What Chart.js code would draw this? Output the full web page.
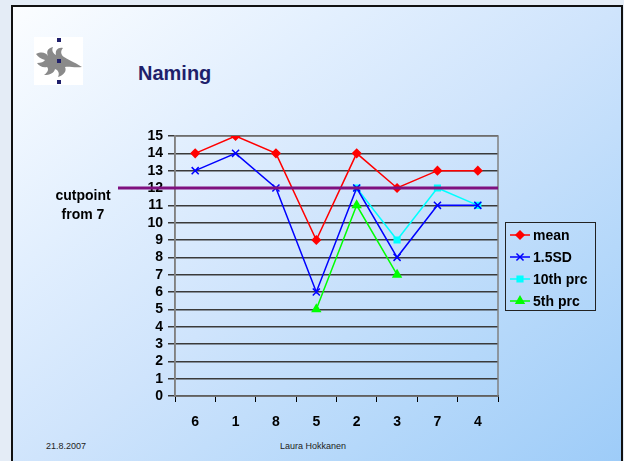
<!DOCTYPE html>
<html>
<head>
<meta charset="utf-8">
<script src="https://cdn.jsdelivr.net/npm/chart.js@4"></script>
<style>
    html, body { margin: 0; padding: 0; }
    body { width: 624px; height: 461px; overflow: hidden; position: relative; background: #e4ecf6; font-family: "Liberation Sans", Arial, sans-serif; }
    #slide {
        position: absolute; left: 11px; top: 5px; width: 608px; height: 470px;
        border: 2px solid #111;
        background: linear-gradient(to bottom right, #fbfdff 0%, #e2effe 28%, #cfe4fc 50%, #b5d8fa 75%, #9ccbf8 100%);
    }
    #logo { position: absolute; left: 34px; top: 37px; }
    #titulo { position: absolute; left: 138px; top: 62px; font-weight: bold; font-size: 20px; color: #1f1f6b; }
    .rodape { position: absolute; top: 441px; font-size: 9px; color: #222; }
    canvas { position: absolute; left: 0; top: 0; }
</style>
</head>
<body>
<div id="slide"></div>
<svg id="logo" width="50" height="49" viewBox="0 0 50 49">
    <rect x="0" y="0" width="49" height="48" fill="#ffffff"/>
    <path d="M2 17 C8 14 12 16 14 19 C12 14 14 11 19 10 C17 14 20 17 22 18 C21 13 24 10 29 11 C26 14 27 18 30 20 C33 22 40 25 48 30 C40 31 35 29 31 30 C33 34 30 38 24 40 C26 36 24 33 21 32 C20 36 16 38 10 38 C14 35 15 32 13 30 C9 31 5 29 3 26 C7 26 10 25 11 23 C7 22 4 20 2 17 Z" fill="#8a8a8a"/>
    <rect x="23" y="1" width="4" height="4" fill="#1f1f6b"/>
    <rect x="23" y="22" width="4" height="4" fill="#1f1f6b"/>
    <rect x="23" y="43" width="4" height="4" fill="#1f1f6b"/>
</svg>
<div id="titulo">Naming</div>
<div class="rodape" style="left:46px">21.8.2007</div>
<div class="rodape" style="left:280px">Laura Hokkanen</div>
<canvas id="graficoNaming" width="624" height="461"></canvas>

<script>
    // dados do grafico
    var categorias = ["6", "1", "8", "5", "2", "3", "7", "4"];
    var mean = [14, 15, 14, 9, 14, 12, 13, 13];
    var sd15 = [13, 14, 12, 6, 12, 8, 11, 11];
    var prc10 = [null, null, null, null, 12, 9, 12, 11];
    var prc5 = [null, null, null, 5, 11, 7, null, null];
    var ticksY = [0, 15];
    var cutpoint = 12;
    var textoCutpoint = ["cutpoint", "from 7"];

    var fonte = "'Liberation Sans', Arial, sans-serif";

    // linha roxa do cutpoint, borda da area e legenda
    var extras = {
        id: 'extras',
        beforeDatasetsDraw(chart) {
            var ctx = chart.ctx;
            var a = chart.chartArea;
            ctx.save();
            ctx.strokeStyle = '#808080';
            ctx.lineWidth = 1.5;
            ctx.strokeRect(a.left, a.top, a.right - a.left, a.bottom - a.top);
            ctx.restore();
        },
        afterDraw(chart) {
            var ctx = chart.ctx;
            var a = chart.chartArea;
            var y = chart.scales.y.getPixelForValue(cutpoint);
            ctx.save();
            ctx.strokeStyle = '#7f107f';
            ctx.lineWidth = 3;
            ctx.beginPath();
            ctx.moveTo(118, y);
            ctx.lineTo(a.right, y);
            ctx.stroke();

            ctx.fillStyle = '#000';
            ctx.font = 'bold 14px ' + fonte;
            ctx.textAlign = 'center';
            ctx.textBaseline = 'middle';
            ctx.fillText(textoCutpoint[0], 83, y + 8);
            ctx.fillText(textoCutpoint[1], 83, y + 27);

            // legenda
            ctx.strokeStyle = '#222';
            ctx.lineWidth = 1;
            ctx.strokeRect(505.5, 222.5, 90, 88);
            chart.data.datasets.forEach(function (ds, i) {
                var ly = 235 + i * 22;
                ctx.strokeStyle = ds.borderColor;
                ctx.lineWidth = 1.5;
                ctx.beginPath();
                ctx.moveTo(510, ly);
                ctx.lineTo(530, ly);
                ctx.stroke();
                Chart.helpers.drawPoint(ctx, {
                    pointStyle: ds.pointStyle,
                    radius: ds.pointRadius,
                    rotation: 0,
                    borderWidth: 1.5
                }, 520, ly);
                ctx.fillStyle = ds.borderColor;
                if (ds.pointStyle !== 'crossRot') ctx.fill();
                ctx.fillStyle = '#000';
                ctx.textAlign = 'left';
                ctx.fillText(ds.label, 533, ly + 1);
            });
            ctx.restore();
        }
    };

    var graficoNaming = new Chart(document.getElementById('graficoNaming').getContext('2d'), {
        type: 'line',
        data: {
            labels: categorias,
            datasets: [{
                label: 'mean',
                data: mean,
                borderColor: '#ff0000',
                backgroundColor: '#ff0000',
                pointStyle: 'rectRot',
                pointRadius: 4
            }, {
                label: '1.5SD',
                data: sd15,
                borderColor: '#0000ff',
                backgroundColor: '#0000ff',
                pointStyle: 'crossRot',
                pointRadius: 5
            }, {
                label: '10th prc',
                data: prc10,
                borderColor: '#00ffff',
                backgroundColor: '#00ffff',
                pointStyle: 'rect',
                pointRadius: 4
            }, {
                label: '5th prc',
                data: prc5,
                borderColor: '#00ff00',
                backgroundColor: '#00ff00',
                pointStyle: 'triangle',
                pointRadius: 4.5
            }]
        },
        options: {
            responsive: false,
            animation: false,
            elements: {
                line: { borderWidth: 1.5, tension: 0 },
                point: { borderWidth: 1.5, hoverRadius: 4 }
            },
            layout: {
                padding: { left: 120, right: 126, top: 136, bottom: 25 }
            },
            plugins: {
                legend: { display: false },
                tooltip: { enabled: false }
            },
            scales: {
                x: {
                    offset: true,
                    afterFit: function (scale) { scale.height = 40; },
                    grid: {
                        offset: true,
                        drawOnChartArea: false,
                        drawTicks: true,
                        tickLength: 6,
                        color: '#000'
                    },
                    border: { color: '#000', width: 1.5 },
                    ticks: {
                        color: '#000',
                        padding: 12,
                        maxRotation: 0,
                        font: { size: 14, weight: 'bold', family: fonte }
                    }
                },
                y: {
                    min: ticksY[0],
                    max: ticksY[1],
                    afterFit: function (scale) { scale.width = 55; },
                    grid: {
                        color: '#3a3a3a',
                        lineWidth: 1.5,
                        tickLength: 7
                    },
                    border: { color: '#808080', width: 1.5 },
                    ticks: {
                        stepSize: 1,
                        autoSkip: false,
                        maxTicksLimit: 20,
                        color: '#000',
                        padding: 5,
                        font: { size: 14, weight: 'bold', family: fonte }
                    }
                }
            }
        },
        plugins: [extras]
    });
</script>
</body>
</html>
